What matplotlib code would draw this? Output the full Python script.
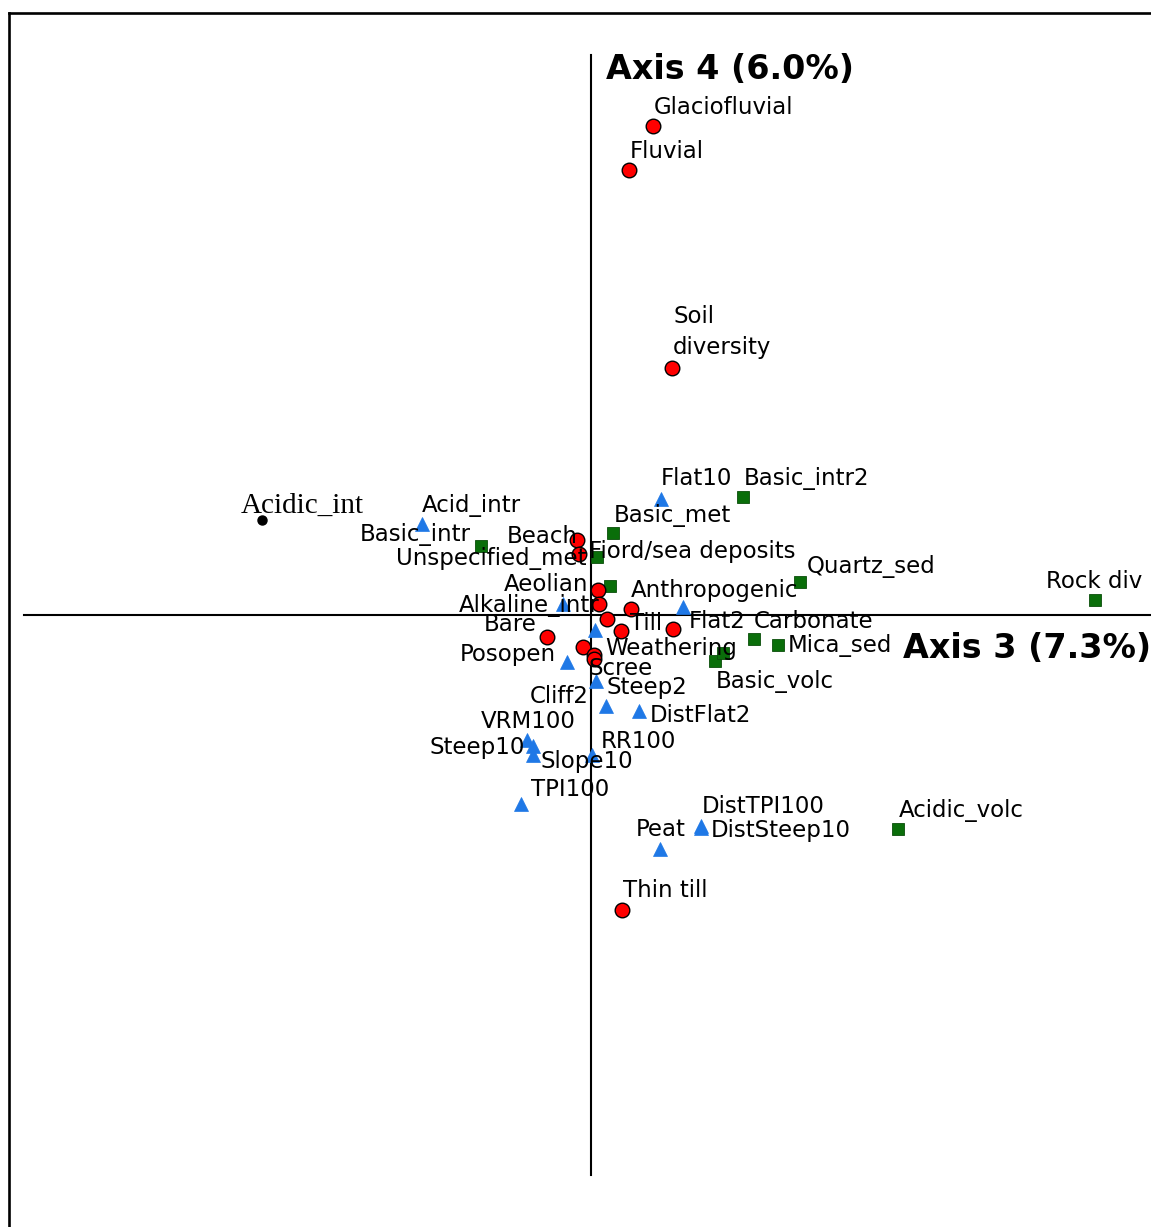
import matplotlib
matplotlib.use("Agg")
import matplotlib.pyplot as plt

plt.rcParams['font.family'] = ['DejaVu Sans']

# ---------------- data (ordination scores, axis 3 vs axis 4) ----------------
soil_names = ["Glaciofluvial", "Fluvial", "Soil\ndiversity", "Beach", "Fiord/sea deposits",
              "Aeolian", "", "Anthropogenic", "", "Till", "Bare", "Weathering",
              "Scree", "", "", "Thin till"]
soil_x = [0.62, 0.38, 0.81, -0.14, -0.12, 0.07, 0.08, 0.40, 0.16, 0.30, -0.44, -0.08,
          0.03, 0.03, 0.82, 0.31]
soil_y = [4.89, 4.45, 2.47, 0.75, 0.61, 0.25, 0.11, 0.06, -0.04, -0.16, -0.22, -0.32,
          -0.40, -0.44, -0.14, -2.95]

terr_names = ["Flat10", "Acid_intr", "Alkaline_intr", "Flat2", "", "Posopen", "Steep2",
              "Cliff2", "DistFlat2", "VRM100", "Steep10", "Slope10", "RR100", "TPI100",
              "DistTPI100", "DistSteep10", "Peat"]
terr_x = [0.70, -1.69, -0.28, 0.92, 0.04, -0.24, 0.05, 0.15, 0.48, -0.64, -0.58, -0.58,
          0.01, -0.70, 1.10, 1.10, 0.69]
terr_y = [1.16, 0.91, 0.11, 0.08, -0.15, -0.47, -0.66, -0.91, -0.96, -1.25, -1.31, -1.40,
          -1.40, -1.89, -2.11, -2.13, -2.34]

rock_names = ["Basic_intr2", "Basic_met", "Basic_intr", "Unspecified_met", "", "Quartz_sed",
              "Rock div", "Carbonate", "Mica_sed", "Basic_volc", "", "Acidic_volc"]
rock_x = [1.52, 0.22, -1.10, 0.06, 0.19, 2.09, 5.04, 1.63, 1.87, 1.24, 1.32, 3.07]
rock_y = [1.18, 0.82, 0.69, 0.58, 0.29, 0.33, 0.15, -0.24, -0.30, -0.46, -0.38, -2.14]

supp_names = ["Acidic_int"]
supp_x = [-3.29]
supp_y = [0.95]

axis_x_label = "Axis 3 (7.3%)"
axis_y_label = "Axis 4 (6.0%)"

# ---------------- label layout (offsets in pixels: dx right, dy down; alignment) ----------
label_layout = {
    "Glaciofluvial": (1, -19, "left"), "Fluvial": (1, -19, "left"),
    "Soil\ndiversity": (1, -36, "left"), "Beach": (1, -4, "right"),
    "Fiord/sea deposits": (10, -3, "left"), "Aeolian": (-10, -6, "right"),
    "Anthropogenic": (0, -19, "left"), "Till": (9, -8, "left"),
    "Bare": (-10, -13, "right"), "Weathering": (22, 1, "left"),
    "Scree": (-6, 13, "left"), "Thin till": (1, -20, "left"),
    "Flat10": (0, -21, "left"), "Acid_intr": (0, -19, "left"),
    "Alkaline_intr": (37, 1, "right"), "Flat2": (6, 14, "left"),
    "Posopen": (-11, -8, "right"), "Steep2": (10, 6, "left"),
    "Cliff2": (-17, -10, "right"), "DistFlat2": (11, 4, "left"),
    "VRM100": (49, -19, "right"), "Steep10": (-8, 1, "right"),
    "Slope10": (7, 6, "left"), "RR100": (9, -14, "left"),
    "TPI100": (10, -15, "left"), "DistTPI100": (1, -20, "left"),
    "DistSteep10": (10, 2, "left"), "Peat": (26, -20, "right"),
    "Basic_intr2": (1, -19, "left"), "Basic_met": (1, -18, "left"),
    "Basic_intr": (-10, -12, "right"), "Unspecified_met": (-11, 1, "right"),
    "Quartz_sed": (7, -16, "left"), "Rock div": (-49, -19, "left"),
    "Carbonate": (0, -18, "left"), "Mica_sed": (10, 0, "left"),
    "Basic_volc": (1, 20, "left"), "Acidic_volc": (1, -19, "left"),
    "Acidic_int": (-21, -14, "left"),
}

W, H = 1151, 1227
fig = plt.figure(figsize=(W / 100, H / 100), dpi=100)
ax = fig.add_axes([9 / W, 0, (W - 9) / W, (H - 13) / H])
ax.set_xlim(-5.82, 5.60)
ax.set_ylim(-6.12, 6.02)
ax.set_xticks([])
ax.set_yticks([])
for s in ("right", "bottom"):
    ax.spines[s].set_visible(False)
for s in ("left", "top"):
    ax.spines[s].set_linewidth(1.9)

# axes of the ordination
ax.plot([-5.67, 5.6], [0, 0], color="black", lw=1.5, zorder=1)
ax.plot([0, 0], [-5.6, 5.6], color="black", lw=1.5, zorder=1)

ax.plot(terr_x, terr_y, linestyle="none", marker="^", ms=9.5, mfc="#1f78e6",
        mec="#1f78e6", mew=0.5, zorder=3)
ax.plot(rock_x, rock_y, linestyle="none", marker="s", ms=9, mfc="#0a6e0a",
        mec="#0a4d0a", mew=0.6, zorder=3)
ax.plot(soil_x, soil_y, linestyle="none", marker="o", ms=10.5, mfc="#ff0000",
        mec="black", mew=1.0, zorder=4)
ax.plot(supp_x, supp_y, linestyle="none", marker="o", ms=6.5, mfc="black",
        mec="black", zorder=4)

def put_labels(names, xs, ys, **kw):
    for n, x, y in zip(names, xs, ys):
        if not n:
            continue
        dx, dy, ha = label_layout[n]
        ax.annotate(n, (x, y), xytext=(dx, -dy), textcoords="offset pixels",
                    ha=ha, va="center", zorder=5, linespacing=1.45, **kw)

put_labels(soil_names, soil_x, soil_y, fontsize=16.5)
put_labels(terr_names, terr_x, terr_y, fontsize=16.5)
put_labels(rock_names, rock_x, rock_y, fontsize=16.5)
put_labels(supp_names, supp_x, supp_y, fontsize=21, family="Liberation Serif")

ax.text(0.15, 5.46, axis_y_label, fontsize=24, fontweight="bold", ha="left",
        va="center", zorder=5)
ax.text(3.12, -0.33, axis_x_label, fontsize=24, fontweight="bold", ha="left",
        va="center", zorder=5)

fig.savefig("out.png", dpi=100, facecolor="white")
